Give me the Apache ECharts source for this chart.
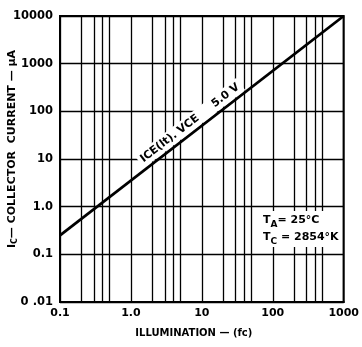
<!DOCTYPE html>
<html><head><meta charset="utf-8">
<script src="https://cdn.jsdelivr.net/npm/echarts@6/dist/echarts.min.js"></script>
<style>html,body{margin:0;padding:0;background:#fff}#c{width:362px;height:347px}</style>
</head><body><div id="c"></div>
<script>
// Data
const curveX = [0.1, 1000];          // illumination (fc)
const curveY = [0.25, 10000];        // collector current (uA)
const xTickLabels = ['0.1', '1.0', '10', '100', '1000'];      // decades 0.1..1000
const yTickLabels = ['0 .01', '0.1', '1.0', '10', '100', '1000', '10000']; // decades 0.01..10000
const xMinorGrid = [0.2, 0.3, 0.4, 0.5, 2, 3, 4, 5, 20, 30, 40, 50, 200, 300, 400, 500];
const curveLabel = 'ICE(lt). VCE     5.0 V';

const FONT = 'DejaVu Sans';
const chart = echarts.init(document.getElementById('c'));
chart.setOption({
  animation: false,
  backgroundColor: '#fff',
  grid: { left: 60, right: 16, top: 16, bottom: 45, show: true, borderColor: '#000', borderWidth: 2 },
  xAxis: {
    type: 'log', logBase: 10, min: 0.1, max: 1000,
    name: 'ILLUMINATION — (fc)', nameLocation: 'middle', nameGap: 26,
    nameTextStyle: { color: '#000', fontFamily: FONT, fontWeight: 'bold', fontSize: 10, padding: [0, 16, 0, 0] },
    axisLine: { lineStyle: { color: '#000', width: 2 } },
    axisTick: { show: false },
    axisLabel: { color: '#000', fontFamily: FONT, fontWeight: 'bold', fontSize: 11, margin: 6,
      formatter: v => xTickLabels[Math.round(Math.log10(v)) + 1] },
    splitLine: { show: true, lineStyle: { color: '#000', width: 1.3 } }
  },
  yAxis: {
    type: 'log', logBase: 10, min: 0.01, max: 10000,
    axisLine: { lineStyle: { color: '#000', width: 2 } },
    axisTick: { show: false },
    axisLabel: { color: '#000', fontFamily: FONT, fontWeight: 'bold', fontSize: 11.5, margin: 7,
      formatter: v => yTickLabels[Math.round(Math.log10(v)) + 2] },
    splitLine: { show: true, lineStyle: { color: '#000', width: 1.3 } }
  },
  series: [
    {
      type: 'line', symbol: 'none', silent: true,
      data: [],
      markLine: {
        silent: true, symbol: 'none', label: { show: false },
        lineStyle: { color: '#000', width: 1.3, type: 'solid' },
        data: xMinorGrid.map(v => ({ xAxis: v }))
      }
    },
    {
      type: 'line', symbol: 'none', silent: true, z: 5,
      lineStyle: { color: '#000', width: 2.8 },
      data: curveX.map((x, i) => [x, curveY[i]])
    }
  ],
  graphic: [
    {
      type: 'text', x: 190, y: 123, rotation: 37.6 * Math.PI / 180, z: 10,
      style: { text: curveLabel, fill: '#000', font: 'bold 11px "DejaVu Sans"',
        align: 'center', verticalAlign: 'middle', backgroundColor: '#fff', padding: [2, 3] }
    },
    {
      type: 'text', x: 260, y: 211, z: 10,
      style: {
        text: 'T{s|A}= 25°C\nT{s|C} = 2854°K',
        fill: '#000', font: 'bold 11px "DejaVu Sans"', lineHeight: 17,
        backgroundColor: '#fff', padding: [1, 3],
        rich: { s: { fontSize: 9, fontWeight: 'bold', fontFamily: FONT, verticalAlign: 'bottom', padding: [6, 0, 0, 0] } }
      }
    },
    {
      type: 'text', x: 12, y: 149, rotation: Math.PI / 2, z: 10,
      style: {
        text: 'I{s|C}— COLLECTOR  CURRENT — μA',
        fill: '#000', font: 'bold 11px "DejaVu Sans"', align: 'center', verticalAlign: 'middle',
        rich: { s: { fontSize: 8, fontWeight: 'bold', fontFamily: FONT, padding: [6, 0, 0, 0] } }
      }
    }
  ]
});
</script></body></html>
